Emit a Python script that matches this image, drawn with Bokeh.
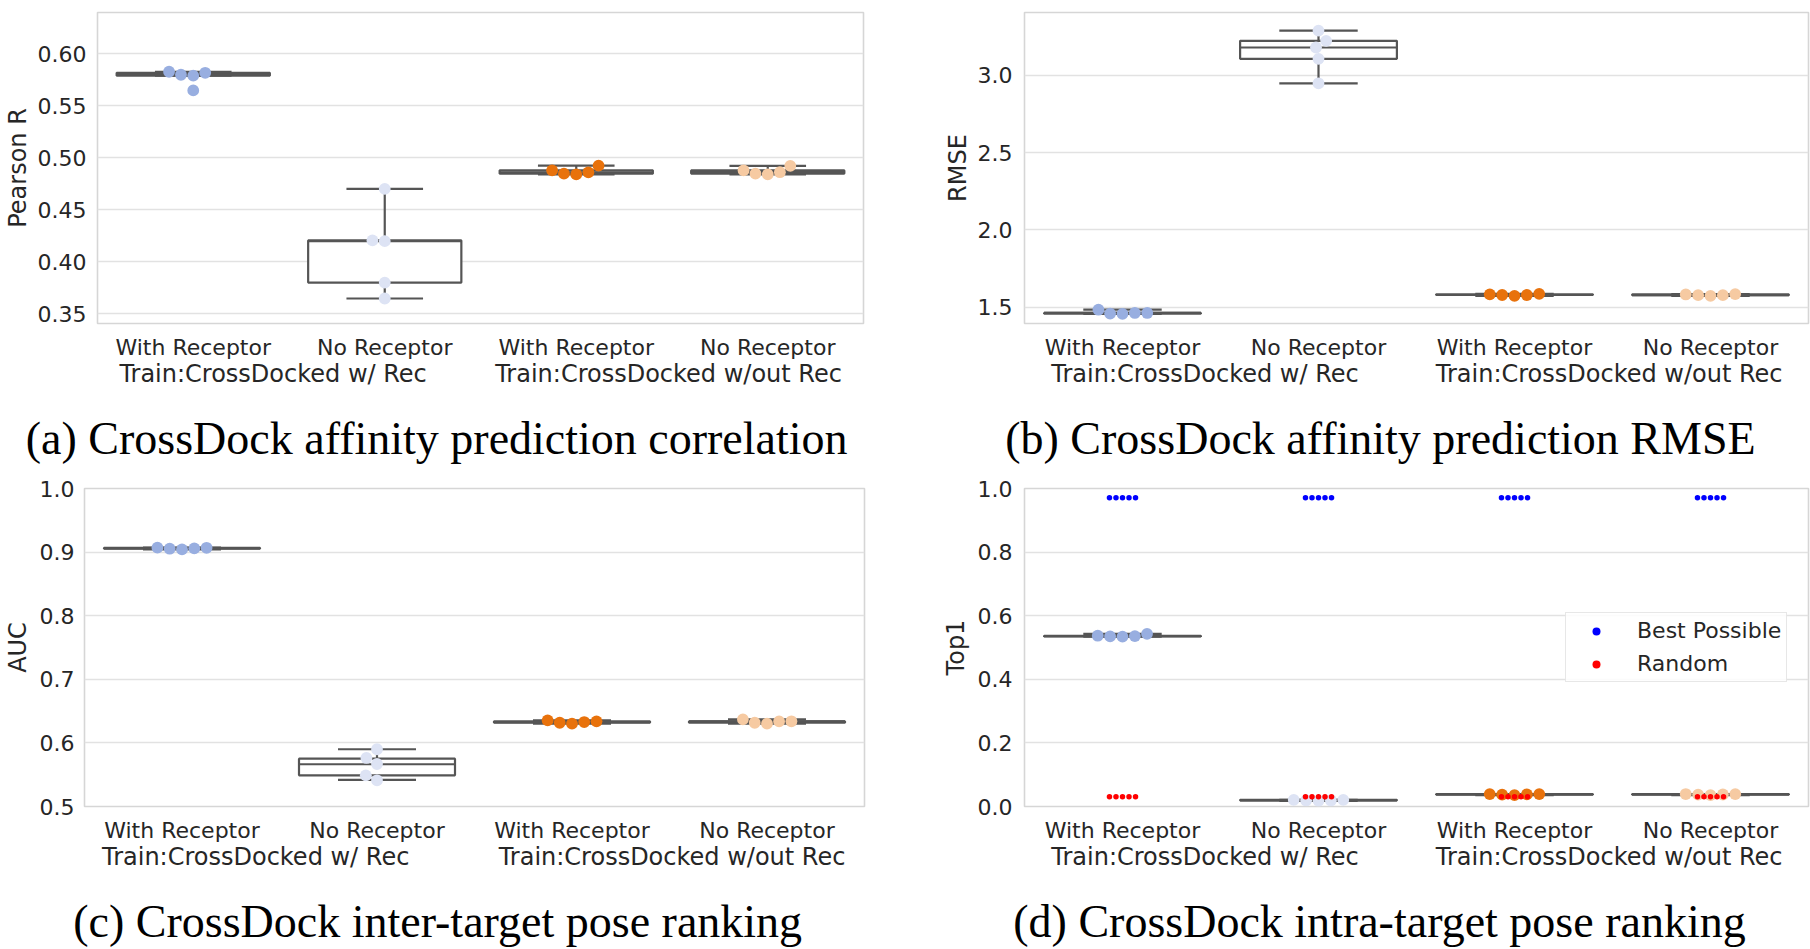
import numpy as np
from bokeh.plotting import figure
from bokeh.models import Range1d, FixedTicker, Legend, LegendItem, LinearAxis
from bokeh.layouts import column, row
from bokeh.embed import file_html
from bokeh.resources import INLINE

# ---------------- data ----------------
categories = ["With Receptor", "No Receptor", "With Receptor", "No Receptor"]
train_groups = ["Train:CrossDocked w/ Rec", "Train:CrossDocked w/out Rec"]
group_colors = ["#98aee0", "#dde3f4", "#e8720c", "#f6caa2"]
captions = ["(a) CrossDock affinity prediction correlation",
            "(b) CrossDock affinity prediction RMSE",
            "(c) CrossDock inter-target pose ranking",
            "(d) CrossDock intra-target pose ranking"]

# (a) Pearson R
pearson_points = [
    [0.5825, 0.5796, 0.5787, 0.5815, 0.5646],
    [0.4700, 0.4205, 0.4198, 0.3800, 0.3647],
    [0.4878, 0.4846, 0.4839, 0.4859, 0.4923],
    [0.4877, 0.4847, 0.4840, 0.4860, 0.4921],
]
pearson_q1 = [0.5787, 0.3800, 0.4846, 0.4847]
pearson_med = [0.5796, 0.4198, 0.4859, 0.4860]
pearson_q3 = [0.5815, 0.4205, 0.4878, 0.4877]
pearson_lo = [0.5787, 0.3647, 0.4839, 0.4840]
pearson_hi = [0.5825, 0.4700, 0.4923, 0.4921]
pearson_ticks = [0.35, 0.40, 0.45, 0.50, 0.55, 0.60]
pearson_tick_labels = ["0.35", "0.40", "0.45", "0.50", "0.55", "0.60"]

# (b) RMSE
rmse_points = [
    [1.464, 1.460, 1.458, 1.464, 1.485],
    [3.287, 3.221, 3.178, 3.105, 2.947],
    [1.5845, 1.580, 1.574, 1.580, 1.587],
    [1.5835, 1.579, 1.574, 1.579, 1.586],
]
rmse_q1 = [1.460, 3.105, 1.580, 1.579]
rmse_med = [1.464, 3.178, 1.580, 1.579]
rmse_q3 = [1.464, 3.221, 1.5845, 1.5835]
rmse_lo = [1.458, 2.947, 1.574, 1.574]
rmse_hi = [1.485, 3.287, 1.587, 1.586]
rmse_ticks = [1.5, 2.0, 2.5, 3.0]
rmse_tick_labels = ["1.5", "2.0", "2.5", "3.0"]

# (c) AUC
auc_points = [
    [0.9042, 0.9053, 0.9058, 0.9068, 0.9070],
    [0.5900, 0.5763, 0.5668, 0.5490, 0.5412],
    [0.6302, 0.6317, 0.6328, 0.6354, 0.6339],
    [0.6302, 0.6317, 0.6338, 0.6340, 0.6370],
]
auc_q1 = [0.9053, 0.5490, 0.6317, 0.6317]
auc_med = [0.9058, 0.5664, 0.6328, 0.6338]
auc_q3 = [0.9068, 0.5752, 0.6339, 0.6340]
auc_lo = [0.9042, 0.5420, 0.6302, 0.6302]
auc_hi = [0.9070, 0.5900, 0.6354, 0.6370]
auc_ticks = [0.5, 0.6, 0.7, 0.8, 0.9, 1.0]
auc_tick_labels = ["0.5", "0.6", "0.7", "0.8", "0.9", "1.0"]

# (d) Top1
top1_points = [
    [0.534, 0.535, 0.536, 0.537, 0.543],
    [0.018, 0.019, 0.019, 0.021, 0.021],
    [0.036, 0.0375, 0.038, 0.039, 0.039],
    [0.036, 0.0375, 0.0378, 0.039, 0.0392],
]
top1_q1 = [0.535, 0.019, 0.0375, 0.0375]
top1_med = [0.536, 0.019, 0.038, 0.0378]
top1_q3 = [0.537, 0.021, 0.039, 0.039]
top1_lo = [0.534, 0.018, 0.036, 0.036]
top1_hi = [0.543, 0.021, 0.039, 0.0392]
best_possible = [
    [0.971, 0.971, 0.971, 0.971, 0.971],
    [0.971, 0.971, 0.971, 0.971, 0.971],
    [0.971, 0.971, 0.971, 0.971, 0.971],
    [0.971, 0.971, 0.971, 0.971, 0.971],
]
random_baseline = [
    [0.031, 0.031, 0.031, 0.031, 0.031],
    [0.031, 0.031, 0.031, 0.031, 0.031],
    [0.031, 0.031, 0.031, 0.031, 0.031],
    [0.031, 0.031, 0.031, 0.031, 0.031],
]
top1_ticks = [0.0, 0.2, 0.4, 0.6, 0.8, 1.0]
top1_tick_labels = ["0.0", "0.2", "0.4", "0.6", "0.8", "1.0"]
legend_labels = ["Best Possible", "Random"]

# ---------------- style ----------------
FONT = "DejaVu Sans"
TXT = "#262626"
BOXC = "#555555"
FS = "22px"
FS_LAB = "24px"
PT = 11.8


def swarm_offsets(vals, px_per_y, d):
    """seaborn-like beeswarm: returns x offsets in pixels"""
    vals = np.asarray(vals, float)
    order = np.argsort(vals, kind="stable")
    out = np.zeros(len(vals))
    placed = []
    for idx in order:
        y = vals[idx] * px_per_y
        neigh = [(px, py) for (px, py) in placed if abs(y - py) < d]
        cands = [0.0]
        for (px, py) in neigh:
            dy = y - py
            dx = np.sqrt(max(d * d - dy * dy, 0.0)) * 1.05
            cands += [px - dx, px + dx]
        cands = sorted(cands, key=abs)
        chosen = cands[-1]
        for c in cands:
            if all((c - px) ** 2 + (y - py) ** 2 >= d * d * 0.999 for (px, py) in neigh):
                chosen = c
                break
        placed.append((chosen, y))
        out[idx] = chosen
    return out


def style_axis(ax, size, font=FONT, color=TXT):
    ax.axis_line_color = None
    ax.major_tick_line_color = None
    ax.minor_tick_line_color = None
    ax.major_tick_out = 0
    ax.major_tick_in = 0
    ax.minor_tick_out = 0
    ax.minor_tick_in = 0
    ax.major_label_text_font = font
    ax.major_label_text_font_size = size
    ax.major_label_text_color = color
    ax.axis_label_text_font = FONT
    ax.axis_label_text_font_size = FS_LAB
    ax.axis_label_text_font_style = "normal"
    ax.axis_label_text_color = TXT


def panel(W, H, FL, FW, FT, FH, yr, ticks, tick_labels, points,
          q1, med, q3, lo, hi, ylabel, y_std, ylab_std, caption, cap_pos,
          cap_standoff, group_pos):
    FR = W - FL - FW
    FB = H - FT - FH
    p = figure(width=W, height=H, x_range=Range1d(-0.5, 3.5), y_range=Range1d(*yr),
               title=None, output_backend="svg", toolbar_location=None,
               min_border_left=FL, min_border_right=FR, min_border_top=FT,
               min_border_bottom=FB, background_fill_color="white",
               border_fill_color="white")
    p.outline_line_color = "#d6d6d6"
    p.outline_line_width = 1.6
    p.xgrid.grid_line_color = None
    p.ygrid.grid_line_color = "#e2e2e2"
    p.ygrid.grid_line_width = 1.6

    p.xaxis.ticker = FixedTicker(ticks=[0, 1, 2, 3])
    p.xaxis.major_label_overrides = {i: c for i, c in enumerate(categories)}
    p.yaxis.ticker = FixedTicker(ticks=ticks)
    p.yaxis.major_label_overrides = dict(zip(ticks, tick_labels))
    style_axis(p.xaxis[0], FS)
    style_axis(p.yaxis[0], FS)
    p.xaxis.major_label_standoff = 11
    p.yaxis.major_label_standoff = y_std
    p.yaxis.axis_label = ylabel
    p.yaxis.axis_label_standoff = ylab_std

    # second line of x labels: training-set groups
    gax = LinearAxis(ticker=FixedTicker(ticks=list(group_pos)),
                     major_label_overrides=dict(zip(group_pos, train_groups)))
    style_axis(gax, FS_LAB)
    gax.major_label_standoff = -3
    p.add_layout(gax, "below")

    # sub-figure caption
    cax = LinearAxis(ticker=FixedTicker(ticks=[cap_pos]),
                     major_label_overrides={cap_pos: caption})
    style_axis(cax, "46px", font="Liberation Serif", color="black")
    cax.major_label_standoff = cap_standoff
    p.add_layout(cax, "below")

    cx = np.arange(4, dtype=float)
    p.segment(x0=cx, y0=q3, x1=cx, y1=hi, line_color=BOXC, line_width=2.2)
    p.segment(x0=cx, y0=q1, x1=cx, y1=lo, line_color=BOXC, line_width=2.2)
    p.segment(x0=cx - 0.2, y0=hi, x1=cx + 0.2, y1=hi, line_color=BOXC, line_width=2.2)
    p.segment(x0=cx - 0.2, y0=lo, x1=cx + 0.2, y1=lo, line_color=BOXC, line_width=2.2)
    p.quad(left=cx - 0.4, right=cx + 0.4, bottom=q1, top=q3, fill_color="white",
           line_color=BOXC, line_width=2.2)
    p.segment(x0=cx - 0.4, y0=med, x1=cx + 0.4, y1=med, line_color=BOXC, line_width=2.2)

    px_y = FH / (yr[1] - yr[0])
    px_x = FW / 4.0
    for i, vals in enumerate(points):
        off = swarm_offsets(vals, px_y, PT)
        p.scatter(x=i + off / px_x, y=vals, size=PT, fill_color=group_colors[i],
                  line_color=None)
    return p, px_x, px_y


pa, _, _ = panel(905, 475, 93, 770, 12, 311, (0.3407, 0.6394), pearson_ticks,
                 pearson_tick_labels, pearson_points, pearson_q1, pearson_med,
                 pearson_q3, pearson_lo, pearson_hi, "Pearson R", 11, 3,
                 captions[0], 1.271, 22, (0.417, 2.482))
pb, _, _ = panel(905, 475, 119, 784, 6, 318, (1.396, 3.404), rmse_ticks,
                 rmse_tick_labels, rmse_points, rmse_q1, rmse_med, rmse_q3,
                 rmse_lo, rmse_hi, "RMSE", 12, 3,
                 captions[1], 1.316, 22, (0.421, 2.483))
pc, _, _ = panel(905, 474, 80, 784, 13, 318, (0.5, 1.0), auc_ticks,
                 auc_tick_labels, auc_points, auc_q1, auc_med, auc_q3,
                 auc_lo, auc_hi, "AUC", 10, 5,
                 captions[2], 1.311, 22, (0.378, 2.513))
pd_, pxd, pyd = panel(905, 474, 119, 784, 13, 318, (0.0, 1.0), top1_ticks,
                      top1_tick_labels, top1_points, top1_q1, top1_med, top1_q3,
                      top1_lo, top1_hi, "Top1", 12, 5,
                      captions[3], 1.311, 22, (0.421, 2.483))

best_r = None
rand_r = None
for i in range(4):
    ob = swarm_offsets(best_possible[i], pyd, 6.2)
    best_r = pd_.scatter(x=i + ob / pxd, y=best_possible[i], size=5.5,
                         fill_color="#0000ff", line_color=None)
    orr = swarm_offsets(random_baseline[i], pyd, 6.2)
    rand_r = pd_.scatter(x=i + orr / pxd, y=random_baseline[i], size=5.5,
                         fill_color="#ff0000", line_color=None)

legend = Legend(items=[LegendItem(label=legend_labels[0], renderers=[best_r]),
                       LegendItem(label=legend_labels[1], renderers=[rand_r])],
                location=(541, 124))
legend.label_text_font = FONT
legend.label_text_font_size = FS
legend.label_text_color = TXT
legend.border_line_color = "#d0d0d0"
legend.border_line_width = 1.2
legend.background_fill_alpha = 0.85
legend.padding = 5
legend.margin = 0
legend.glyph_width = 50
legend.glyph_height = 20
legend.label_standoff = 16
legend.spacing = 8
pd_.add_layout(legend)

layout = column(row(pa, pb), row(pc, pd_))
open("out.html", "w").write(file_html(layout, INLINE))
